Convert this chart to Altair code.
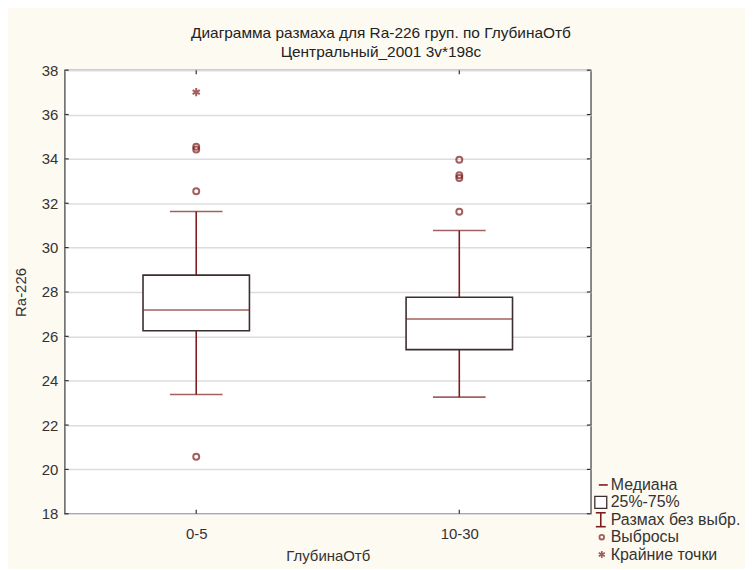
import altair as alt
import pandas as pd

# ---- data ----
categories = ["0-5", "10-30"]
whisker_low = [23.38, 23.26]
q1 = [26.25, 25.40]
median = [27.19, 26.78]
q3 = [28.76, 27.76]
whisker_high = [31.63, 30.77]

outlier_group = ["0-5", "0-5", "0-5", "0-5", "10-30", "10-30", "10-30", "10-30"]
outlier_values = [34.55, 34.42, 32.54, 20.57, 33.96, 33.26, 33.14, 31.62]

extreme_group = ["0-5"]
extreme_values = [37.01]

y_ticks = [18, 20, 22, 24, 26, 28, 30, 32, 34, 36, 38]

title_lines = ["Диаграмма размаха для Ra-226 груп. по ГлубинаОтб", "Центральный_2001 3v*198c"]
x_title = "ГлубинаОтб"
y_title = "Ra-226"
legend_labels = ["Медиана", "25%-75%", "Размах без выбр.", "Выбросы", "Крайние точки"]

# ---- styling ----
W, H = 529, 446
FONT = "Liberation Sans"
RED = "#7d1c1c"
DARK = "#3a2f2f"
BG = "#fdfaf1"

box_df = pd.DataFrame({"group": categories, "low": whisker_low, "q1": q1,
                       "median": median, "q3": q3, "high": whisker_high})
out_df = pd.DataFrame({"group": outlier_group, "value": outlier_values})
ext_df = pd.DataFrame({"group": extreme_group, "value": extreme_values})
tick_df = pd.DataFrame({"value": y_ticks})
cat_df = pd.DataFrame({"group": categories})
one = pd.DataFrame({"a": [0]})

yscale = alt.Scale(domain=[18, 38], nice=False, zero=False)
yaxis = alt.Axis(title=y_title, values=y_ticks, grid=True, gridColor="#dcdcdc", gridWidth=1.5,
                 tickSize=0, domain=False, labelPadding=7, labelFontSize=15, labelFont=FONT,
                 labelColor="#333", titleFont=FONT, titleFontSize=15, titleFontWeight="normal",
                 titleColor="#333", titlePadding=13)
xscale = alt.Scale(type="point", padding=0.5, domain=categories)
xaxis = alt.Axis(title=x_title, labelAngle=0, tickSize=0, domain=False, grid=False,
                 labelPadding=13, labelFontSize=15, labelFont=FONT, labelColor="#333",
                 titleFont=FONT, titleFontSize=15, titleFontWeight="normal", titleColor="#333",
                 titlePadding=7)

X = alt.X("group:N", scale=xscale, axis=xaxis)

whisk = alt.Chart(box_df).mark_rule(color=RED, strokeWidth=1.6).encode(
    x=X, y=alt.Y("low:Q", scale=yscale, axis=yaxis), y2="high:Q")
caps_low = alt.Chart(box_df).mark_tick(color=RED, size=53, thickness=1.6, orient="horizontal").encode(
    x=X, y=alt.Y("low:Q", scale=yscale, axis=yaxis))
caps_high = alt.Chart(box_df).mark_tick(color=RED, size=53, thickness=1.6, orient="horizontal").encode(
    x=X, y=alt.Y("high:Q", scale=yscale, axis=yaxis))
box = alt.Chart(box_df).mark_bar(size=107, fill="white", stroke=DARK, strokeWidth=1.6).encode(
    x=X, y=alt.Y("q1:Q", scale=yscale, axis=yaxis), y2="q3:Q")
med = alt.Chart(box_df).mark_tick(color=RED, size=106, thickness=1.6, orient="horizontal").encode(
    x=X, y=alt.Y("median:Q", scale=yscale, axis=yaxis))
outl = alt.Chart(out_df).mark_point(shape="circle", filled=False, color=RED, size=36, strokeWidth=2).encode(
    x=X, y=alt.Y("value:Q", scale=yscale, axis=yaxis))
STAR = "M0,-1L0,1M-0.87,-0.5L0.87,0.5M-0.87,0.5L0.87,-0.5"
ext = alt.Chart(ext_df).mark_point(shape=STAR, filled=False, color=RED, size=70, strokeWidth=2).encode(
    x=X, y=alt.Y("value:Q", scale=yscale, axis=yaxis))

# inner ticks on the frame
tl = alt.Chart(tick_df).mark_rule(color=DARK, strokeWidth=1.2).encode(
    y=alt.Y("value:Q", scale=yscale, axis=yaxis), x=alt.value(0), x2=alt.value(4))
tr = alt.Chart(tick_df).mark_rule(color=DARK, strokeWidth=1.2).encode(
    y=alt.Y("value:Q", scale=yscale, axis=yaxis), x=alt.value(W - 4), x2=alt.value(W))
tb = alt.Chart(cat_df).mark_rule(color=DARK, strokeWidth=1.2).encode(
    x=X, y=alt.value(H - 4), y2=alt.value(H))
tt = alt.Chart(cat_df).mark_rule(color=DARK, strokeWidth=1.2).encode(
    x=X, y=alt.value(0), y2=alt.value(4))

layers = [whisk, box, med, caps_low, caps_high, outl, ext, tl, tr, tb, tt]

# title
for i, line in enumerate(title_lines):
    layers.append(alt.Chart(one).mark_text(text=line, font=FONT, fontSize=15.5, color="#222",
                                           align="center", baseline="middle").encode(
        x=alt.value(318), y=alt.value(-37 + 19 * i)))

# legend
LX, LY0, LDY = 549, 417, 17.5
for i, lab in enumerate(legend_labels):
    layers.append(alt.Chart(one).mark_text(text=lab, font=FONT, fontSize=16, color="#333",
                                           align="left", baseline="middle").encode(
        x=alt.value(LX), y=alt.value(LY0 + LDY * i)))
# median symbol
layers.append(alt.Chart(one).mark_rule(color=RED, strokeWidth=1.6).encode(
    x=alt.value(537), x2=alt.value(546), y=alt.value(LY0)))
# box symbol
layers.append(alt.Chart(one).mark_rect(fill="white", stroke=DARK, strokeWidth=1.3).encode(
    x=alt.value(533), x2=alt.value(545), y=alt.value(LY0 + LDY - 6), y2=alt.value(LY0 + LDY + 6)))
# whisker symbol
wy = LY0 + 2 * LDY
layers.append(alt.Chart(one).mark_rule(color=RED, strokeWidth=1.6).encode(
    x=alt.value(539), y=alt.value(wy - 7), y2=alt.value(wy + 7)))
layers.append(alt.Chart(one).mark_rule(color=RED, strokeWidth=1.6).encode(
    x=alt.value(534), x2=alt.value(544), y=alt.value(wy - 7)))
layers.append(alt.Chart(one).mark_rule(color=RED, strokeWidth=1.6).encode(
    x=alt.value(534), x2=alt.value(544), y=alt.value(wy + 7)))
# outlier symbol
layers.append(alt.Chart(one).mark_point(shape="circle", filled=False, color=RED, size=22, strokeWidth=1.8).encode(
    x=alt.value(540), y=alt.value(LY0 + 3 * LDY)))
# extreme symbol
layers.append(alt.Chart(one).mark_point(shape=STAR, filled=False, color=RED, size=50, strokeWidth=1.7).encode(
    x=alt.value(540), y=alt.value(LY0 + 4 * LDY)))

chart = alt.layer(*layers).properties(
    width=W, height=H,
    autosize=alt.AutoSizeParams(type="none"),
    padding={"left": 57, "top": 61, "right": 155, "bottom": 54},
    background=BG,
).configure_view(fill="white", stroke="#4a4a4a", strokeWidth=1.3)

chart.save("out.html", embed_options={"renderer": "svg", "actions": False})
